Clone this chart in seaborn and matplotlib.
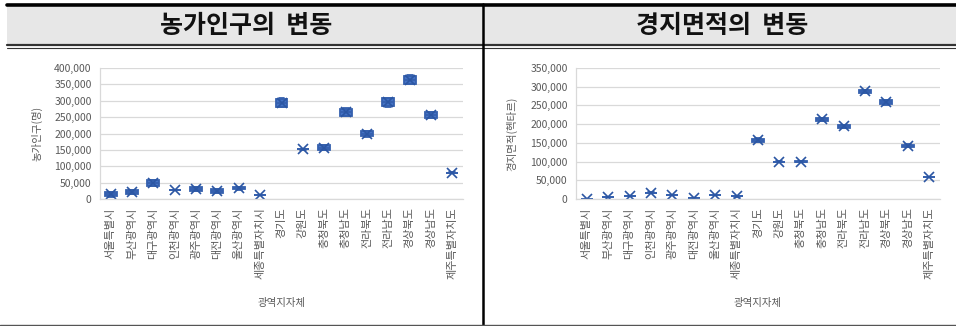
import matplotlib
matplotlib.use("Agg")
import matplotlib.pyplot as plt
from matplotlib.patches import Rectangle
from matplotlib.lines import Line2D
from matplotlib.ticker import FuncFormatter, MultipleLocator
import pandas as pd
import seaborn as sns

sns.set_theme(style="white")
plt.rcParams["font.family"] = ["Noto Sans CJK KR", "DejaVu Sans"]

# ---- data -----------------------------------------------------------------
regions = ["서울특별시", "부산광역시", "대구광역시", "인천광역시", "광주광역시",
           "대전광역시", "울산광역시", "세종특별자치시", "경기도", "강원도",
           "충청북도", "충청남도", "전라북도", "전라남도", "경상북도",
           "경상남도", "제주특별자치도"]

# farm population (persons), yearly observations per region
farm_population = [
    [7000, 8000, 14000, 20000, 21000],
    [15000, 16000, 22000, 28000, 29000],
    [39000, 40000, 49000, 58000, 59000],
    [27500, 27800, 28000, 28200, 28500],
    [24000, 24500, 31000, 37500, 38000],
    [18500, 19000, 25000, 31000, 31500],
    [29000, 29500, 32500, 35500, 36000],
    [12500, 12800, 13000, 13200, 13500],
    [281000, 282000, 294000, 306000, 307000],
    [151000, 151500, 152000, 152500, 153000],
    [149500, 150000, 157000, 164000, 164500],
    [253000, 254000, 265000, 276000, 277000],
    [190500, 191000, 199000, 207000, 207500],
    [282000, 283000, 295000, 307000, 308000],
    [350000, 351000, 364000, 377000, 378000],
    [247000, 247500, 257000, 266500, 267000],
    [79000, 79500, 80000, 80500, 81000],
]

# cultivated area (ha), yearly observations per region
cultivated_area = [
    [800, 900, 1000, 1100, 1200],
    [4800, 5000, 5300, 5600, 5800],
    [7500, 7700, 8000, 8300, 8500],
    [16500, 16700, 17000, 17300, 17500],
    [9500, 9700, 10000, 10300, 10500],
    [2200, 2400, 2700, 3000, 3200],
    [9500, 9700, 10000, 10300, 10500],
    [6500, 6700, 7000, 7300, 7500],
    [153000, 153500, 157500, 161500, 162000],
    [99200, 99400, 99700, 100000, 100200],
    [98000, 98500, 100000, 101500, 102000],
    [208500, 209000, 213000, 217000, 217500],
    [190500, 191000, 194000, 197000, 197500],
    [283000, 283500, 287500, 291500, 292000],
    [252000, 252500, 258000, 263500, 264000],
    [139000, 139500, 142500, 145500, 146000],
    [57500, 57700, 58000, 58300, 58500],
]

panel_titles = ["농가인구의  변동", "경지면적의  변동"]
y_labels = ["농가인구(명)", "경지면적(헥타르)"]
x_label = "광역지자체"
y_limits = [400000, 350000]


def long_form(values):
    rows = [(r, v) for r, vals in zip(regions, values) for v in vals]
    return pd.DataFrame(rows, columns=["region", "value"])


# ---- figure ---------------------------------------------------------------
W, H = 956, 326
fig = plt.figure(figsize=(W / 100, H / 100), dpi=100)
fig.patch.set_facecolor("white")


def fx(px):
    return px / W


def fy(py):
    return 1 - py / H


# header band and frame lines
fig.add_artist(Rectangle((fx(7), fy(44)), fx(956) - fx(7), fy(7) - fy(44),
                         transform=fig.transFigure, facecolor="#e7e7e7",
                         edgecolor="none", zorder=0))
fig.add_artist(Line2D([fx(7), fx(956)], [fy(5), fy(5)], transform=fig.transFigure,
                      color="black", linewidth=2.6))
fig.add_artist(Line2D([fx(7), fx(956)], [fy(45), fy(45)], transform=fig.transFigure,
                      color="#333333", linewidth=1.6))
fig.add_artist(Line2D([fx(7), fx(956)], [fy(48.3), fy(48.3)], transform=fig.transFigure,
                      color="#333333", linewidth=0.8))
fig.add_artist(Line2D([fx(483), fx(483)], [fy(4), fy(326)], transform=fig.transFigure,
                      color="black", linewidth=1.8))
fig.add_artist(Line2D([fx(0), fx(956)], [fy(325), fy(325)], transform=fig.transFigure,
                      color="#555555", linewidth=1.0))

title_centers = [246, 722]
for cx, t in zip(title_centers, panel_titles):
    fig.text(fx(cx), fy(26), t, ha="center", va="center", fontsize=18,
             fontweight="bold", color="#111111")

axes_px = [(100, 463), (576, 940)]
ylabel_px = [37, 512]
top_px, bottom_px = 68, 199
tick_color = "#595959"

for (left, right), lab_x, values, ylab, ymax in zip(
        axes_px, ylabel_px, [farm_population, cultivated_area], y_labels, y_limits):
    ax = fig.add_axes([fx(left), fy(bottom_px), fx(right) - fx(left),
                       fy(top_px) - fy(bottom_px)])
    df = long_form(values)
    sns.boxplot(data=df, x="region", y="value", order=regions, ax=ax,
                color="#4472C4", saturation=1, width=0.56,
                linecolor="#3560AE", linewidth=1.3, fliersize=0,
                showmeans=True,
                meanprops=dict(marker="x", markeredgecolor="#2B56A3",
                               markerfacecolor="#2B56A3", markersize=7,
                               markeredgewidth=1.2))
    ax.set_ylim(0, ymax)
    ax.set_xlim(-0.5, len(regions) - 0.5)
    ax.yaxis.set_major_locator(MultipleLocator(50000))
    ax.yaxis.set_major_formatter(FuncFormatter(lambda v, _: f"{v:,.0f}"))
    ax.grid(axis="y", color="#d9d9d9", linewidth=0.9)
    ax.set_axisbelow(True)
    for side in ["top", "right"]:
        ax.spines[side].set_visible(False)
    for side in ["left", "bottom"]:
        ax.spines[side].set_color("#d9d9d9")
        ax.spines[side].set_linewidth(0.9)
    ax.tick_params(axis="both", length=0, colors=tick_color, labelsize=7.5)
    ax.tick_params(axis="x", pad=6)
    ax.tick_params(axis="y", pad=6)
    ax.set_xticks(range(len(regions)))
    ax.set_xticklabels(regions, rotation=90, va="top", ha="center",
                       fontsize=8, color=tick_color)

    h = bottom_px - top_px
    ax.set_xlabel(x_label, fontsize=7.5, color=tick_color)
    ax.xaxis.label.set_va("center")
    ax.xaxis.set_label_coords(0.5, (bottom_px - 303) / h)
    ax.set_ylabel(ylab, fontsize=7.5, color=tick_color)
    ax.yaxis.label.set_va("center")
    ax.yaxis.set_label_coords((lab_x - left) / (right - left), 0.5)

fig.savefig("out.png", dpi=100, facecolor="white")
